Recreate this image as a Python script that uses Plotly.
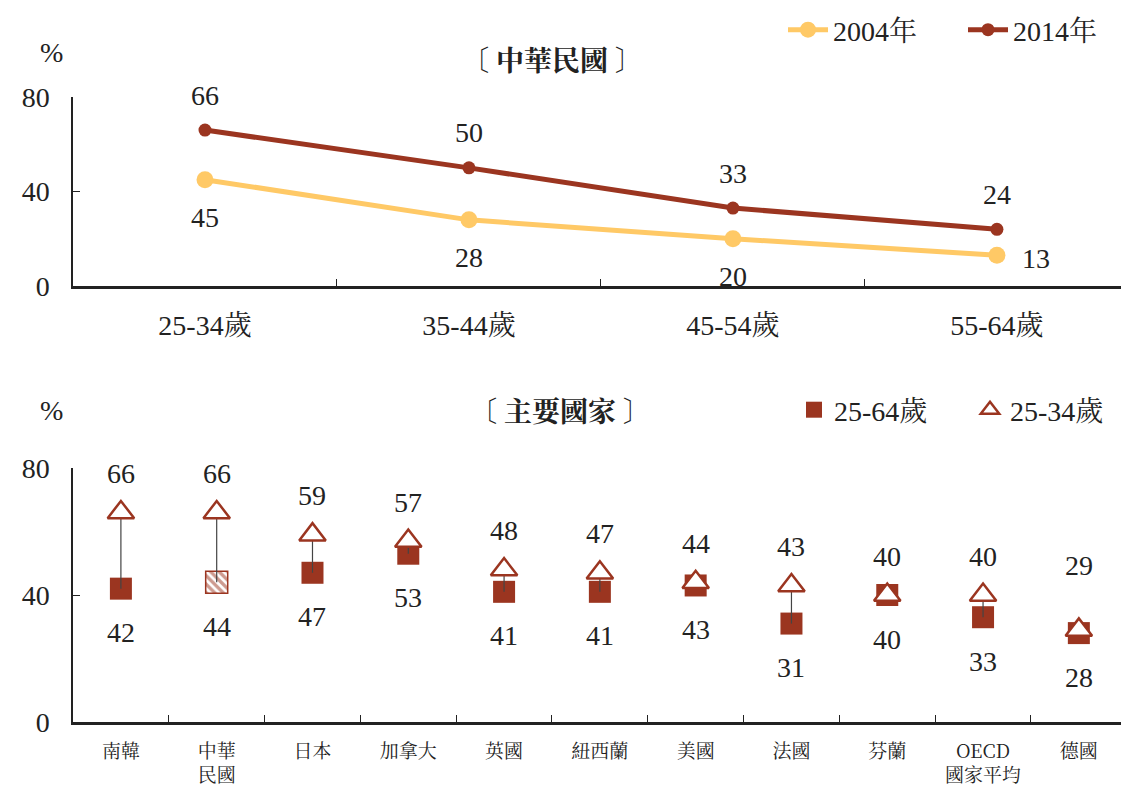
import plotly.graph_objects as go

# ---------------- data ----------------
age_groups = ["25-34歲", "35-44歲", "45-54歲", "55-64歲"]
rate_2004 = [45, 28, 20, 13]
rate_2014 = [66, 50, 33, 24]

countries = ["南韓", "中華<br>民國", "日本", "加拿大", "英國", "紐西蘭",
             "美國", "法國", "芬蘭", "OECD<br>國家平均", "德國"]
rate_25_64 = [42, 44, 47, 53, 41, 41, 43, 31, 40, 33, 28]
rate_25_34 = [66, 66, 59, 57, 48, 47, 44, 43, 40, 40, 29]
hatched_country = "中華<br>民國"

# ---------------- styles ----------------
FONT = "'Liberation Serif', 'Noto Serif CJK TC', 'Noto Sans CJK TC', serif"
CJK = "'Noto Serif CJK TC', 'Noto Sans CJK TC', serif"
C_LIGHT = "#FFC966"
C_DARK = "#9B3520"
TXT = "#222222"
FS = 28

fig = go.Figure()

# ---------- top chart ----------
fig.add_trace(go.Scatter(
    x=age_groups, y=rate_2004, name="2004年", mode="lines+markers",
    line=dict(color=C_LIGHT, width=5), marker=dict(size=17, color=C_LIGHT),
    xaxis="x", yaxis="y", legend="legend"))
fig.add_trace(go.Scatter(
    x=age_groups, y=rate_2014, name="2014年", mode="lines+markers",
    line=dict(color=C_DARK, width=5), marker=dict(size=13, color=C_DARK),
    xaxis="x", yaxis="y", legend="legend"))

annotations = []
for g, v in zip(age_groups, rate_2014):
    annotations.append(dict(x=g, y=v, xref="x", yref="y", text=str(v), showarrow=False,
                            yshift=35, font=dict(size=FS, color=TXT, family=FONT)))
for i, (g, v) in enumerate(zip(age_groups, rate_2004)):
    if i == len(age_groups) - 1:
        annotations.append(dict(x=g, y=v, xref="x", yref="y", text=str(v), showarrow=False,
                                xshift=39, yshift=-3, font=dict(size=FS, color=TXT, family=FONT)))
    else:
        annotations.append(dict(x=g, y=v, xref="x", yref="y", text=str(v), showarrow=False,
                                yshift=-38, font=dict(size=FS, color=TXT, family=FONT)))

# ---------- bottom chart ----------
sq_y = [None if c == hatched_country else v for c, v in zip(countries, rate_25_64)]
fig.add_trace(go.Scatter(
    x=countries, y=sq_y, name="25-64歲", mode="markers",
    marker=dict(symbol="square", size=22, color=C_DARK),
    xaxis="x2", yaxis="y2", legend="legend2"))

# hatched square for 中華民國 (square size in data units)
SQ_UNITS = 22 / (254 / 80)
hv = rate_25_64[countries.index(hatched_country)]
fig.add_trace(go.Bar(
    x=[hatched_country], y=[SQ_UNITS], base=[hv - SQ_UNITS / 2], width=0.23,
    marker=dict(color="white", line=dict(color=C_DARK, width=1.5),
                pattern=dict(shape="\\", fgcolor=C_DARK, bgcolor="white", size=6, solidity=0.55)),
    showlegend=False, hoverinfo="skip", xaxis="x2", yaxis="y2"))

# connectors
cx, cy = [], []
for c, a, b in zip(countries, rate_25_34, rate_25_64):
    cx += [c, c, None]
    cy += [a, b, None]
fig.add_trace(go.Scatter(
    x=cx, y=cy, mode="lines", line=dict(color="#444444", width=1.2),
    showlegend=False, hoverinfo="skip", xaxis="x2", yaxis="y2"))

fig.add_trace(go.Scatter(
    x=countries, y=rate_25_34, name="25-34歲", mode="markers",
    marker=dict(symbol="triangle-up", size=23, color="white",
                line=dict(color=C_DARK, width=2.5)),
    xaxis="x2", yaxis="y2", legend="legend2"))

for i, (c, a, b) in enumerate(zip(countries, rate_25_34, rate_25_64)):
    up = 64 if i == len(countries) - 1 else 39
    annotations.append(dict(x=c, y=a, xref="x2", yref="y2", text=str(a), showarrow=False,
                            yshift=up, font=dict(size=FS, color=TXT, family=FONT)))
    annotations.append(dict(x=c, y=b, xref="x2", yref="y2", text=str(b), showarrow=False,
                            yshift=-44, font=dict(size=FS, color=TXT, family=FONT)))

# titles and units
L, W = 73, 1048
def px(x):
    return (x - L) / W
def py(y):
    return 1 - y / 790

annotations += [
    dict(x=px(38), y=py(35), xref="paper", yref="paper", text="%", showarrow=False,
         font=dict(size=28, color=TXT, family=FONT)),
    dict(x=px(38), y=py(410), xref="paper", yref="paper", text="%", showarrow=False,
         font=dict(size=28, color=TXT, family=FONT)),
    dict(x=px(552), y=py(37), xref="paper", yref="paper", text="<b>〔 中華民國 〕</b>",
         showarrow=False, font=dict(size=28, color=TXT, family=CJK)),
    dict(x=px(560), y=py(410), xref="paper", yref="paper", text="<b>〔 主要國家 〕</b>",
         showarrow=False, font=dict(size=28, color=TXT, family=CJK)),
]

axis_common = dict(showline=True, linecolor=TXT, showgrid=False, zeroline=False,
                   ticks="inside", ticklen=7, tickcolor=TXT, tickwidth=1)

fig.update_layout(
    width=1121, height=790,
    margin=dict(l=L, r=0, t=0, b=0, autoexpand=False),
    paper_bgcolor="white", plot_bgcolor="white",
    font=dict(family=FONT, color=TXT),
    annotations=annotations,
    xaxis=dict(axis_common, domain=[0, 1], anchor="y", type="category",
               categoryorder="array", categoryarray=age_groups,
               range=[-0.5, 3.47], tickson="boundaries", linewidth=2.5,
               tickfont=dict(size=FS, family=FONT, color=TXT), ticklabelstandoff=13),
    yaxis=dict(axis_common, domain=[py(286), py(97)], anchor="x", range=[0, 80],
               tickvals=[0, 40, 80], linewidth=1.5,
               tickfont=dict(size=FS, family=FONT, color=TXT), ticklabelstandoff=16),
    xaxis2=dict(axis_common, domain=[0, 1], anchor="y2", type="category",
                categoryorder="array", categoryarray=countries,
                range=[-0.5, 10.44], tickson="boundaries", linewidth=2.5,
                tickfont=dict(size=19, family=CJK, color=TXT), ticklabelstandoff=10),
    yaxis2=dict(axis_common, domain=[py(722), py(468)], anchor="x2", range=[0, 80],
                tickvals=[0, 40, 80], linewidth=1.5,
                tickfont=dict(size=FS, family=FONT, color=TXT), ticklabelstandoff=16),
    legend=dict(orientation="h", x=px(783), y=py(30), xanchor="left", yanchor="middle",
                font=dict(size=FS, family=FONT, color=TXT), bgcolor="rgba(0,0,0,0)",
                itemwidth=40, entrywidth=125, tracegroupgap=0),
    legend2=dict(orientation="h", x=px(794), y=py(410), xanchor="left", yanchor="middle",
                 font=dict(size=FS, family=FONT, color=TXT), bgcolor="rgba(0,0,0,0)",
                 itemwidth=30, entrywidth=131),
    showlegend=True,
)

fig.write_html("out.html", post_script="document.body.style.margin='0px';",
               config={"displayModeBar": False})
